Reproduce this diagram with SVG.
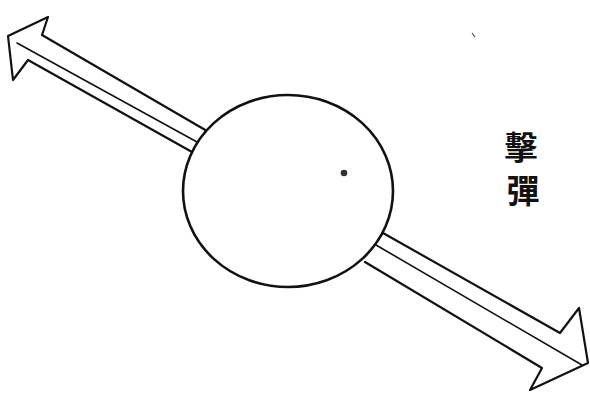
<svg xmlns="http://www.w3.org/2000/svg" width="590" height="393" viewBox="0 0 590 393">
<style>
.ln{fill:none;stroke:#111;stroke-width:2.2;stroke-linecap:round;stroke-linejoin:round}
.thin{fill:none;stroke:#111;stroke-width:1.6;stroke-linecap:round}
.lbl{font-family:"Noto Sans CJK TC","Noto Sans CJK SC",sans-serif;font-size:33px;font-weight:bold;fill:#111;text-anchor:middle}
</style>
<rect width="590" height="393" fill="#fff"/>
<g id="connectors">
  <g id="arrow-left">
    <path class="ln" d="M207,131 L42,35 L48,17 L8,36 L13,80 L28,60 L192,152"/>
    <path class="thin" d="M17,43 L197,142"/>
  </g>
  <g id="arrow-right">
    <path class="ln" d="M383,233 L560,333 L579,308 L588,363 L530,390 L542,368 L365,262"/>
    <path class="thin" d="M376,245 L582,365"/>
  </g>
</g>
<g id="ball">
  <ellipse cx="288" cy="191" rx="105" ry="96" fill="#fff" stroke="#111" stroke-width="2.6"/>
  <circle cx="344" cy="173" r="3.3" fill="#333"/>
</g>
<g id="speck">
  <path d="M472,33 L475,37" stroke="#555" stroke-width="1.2"/>
</g>
<g id="label">
  <text class="lbl" x="521" y="160">擊</text>
  <text class="lbl" x="523" y="203">彈</text>
</g>
</svg>
